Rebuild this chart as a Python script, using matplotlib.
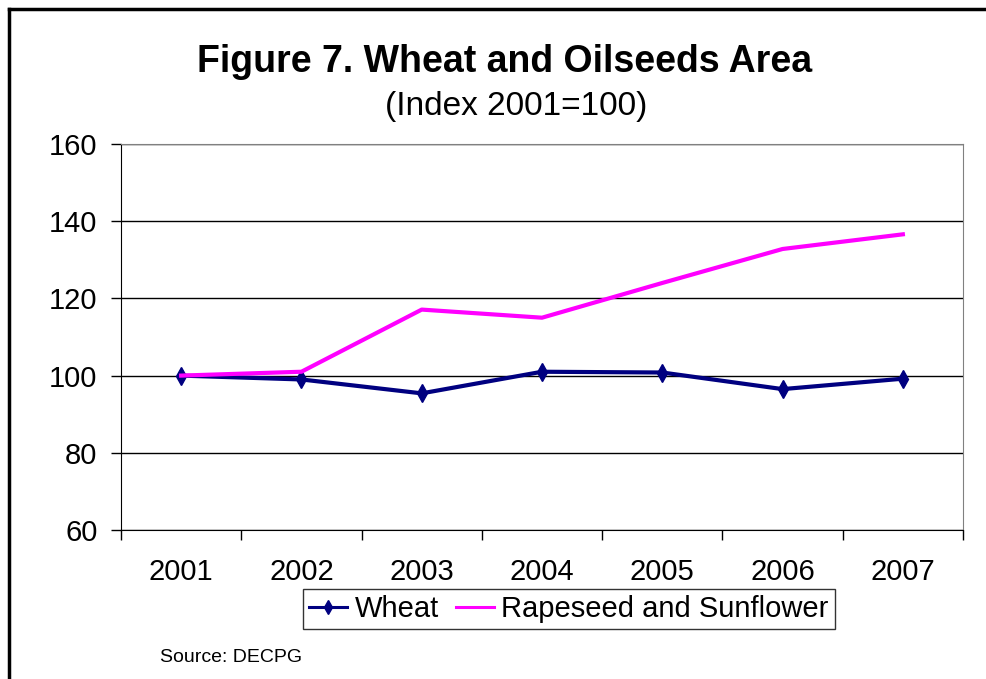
import matplotlib.pyplot as plt
from matplotlib.lines import Line2D

# Daten (Index 2001=100)
years = ["2001", "2002", "2003", "2004", "2005", "2006", "2007"]
wheat = [100.0, 99.0, 95.4, 101.0, 100.8, 96.5, 99.2]
rapeseed = [100.0, 101.0, 117.1, 115.0, 124.0, 132.8, 136.6]
y_ticks = [60, 80, 100, 120, 140, 160]

plt.rcParams["font.family"] = ["Liberation Sans", "DejaVu Sans"]

fig = plt.figure(figsize=(9.86, 6.79), dpi=100)
ax = fig.add_axes([121/986, 1-530/679, (963-121)/986, (530-144)/679])

x = list(range(len(years)))
ax.plot(x, wheat, "-", color="#000080", linewidth=3.0, marker="d",
        markersize=9, label="Wheat", zorder=3)
ax.plot(x, rapeseed, "-", color="#FF00FF", linewidth=3.0,
        label="Rapeseed and Sunflower", zorder=3)

ax.set_ylim(60, 160)
ax.set_yticks(y_ticks)
ax.set_xlim(-0.5, len(years) - 0.5)
# Ticks an den Kategoriegrenzen, Labels in der Mitte
ax.set_xticks([i - 0.5 for i in range(len(years) + 1)])
ax.set_xticklabels([])
ax.set_xticks(x, minor=True)
ax.set_xticklabels(years, minor=True)
ax.tick_params(axis="x", which="major", direction="out", length=7, width=1, color="black")
ax.tick_params(axis="x", which="minor", length=0, pad=20, labelsize=21)
ax.tick_params(axis="y", direction="out", length=7, width=1, pad=10, labelsize=21)

ax.yaxis.grid(True, color="black", linewidth=1)
ax.set_axisbelow(True)
ax.spines["left"].set_color("black")
ax.spines["bottom"].set_color("black")
ax.spines["top"].set_color("#808080")
ax.spines["right"].set_color("#808080")

fig.text(0.512, 1-62/679, "Figure 7. Wheat and Oilseeds Area", ha="center",
         va="center", fontsize=27, fontweight="bold")
fig.text(0.524, 1-106/679, "(Index 2001=100)", ha="center", va="center", fontsize=24)

leg = fig.legend(loc="center", bbox_to_anchor=(569/986, 1-609/679), ncol=2,
                 fontsize=21, frameon=True, fancybox=False, edgecolor="black",
                 handlelength=1.3, handletextpad=0.25, columnspacing=0.6,
                 borderpad=0.2, borderaxespad=0)
leg.get_frame().set_linewidth(1)
for h in leg.get_lines():
    h.set_linewidth(2.2)
    h.set_markersize(7)

fig.text(160/986, 1-657/679, "Source: DECPG", ha="left", va="center", fontsize=14)

# Rahmen oben und links
fig.add_artist(Line2D([9/986, 1], [1-9/679, 1-9/679], color="black", linewidth=2.5,
                      transform=fig.transFigure))
fig.add_artist(Line2D([9/986, 9/986], [0, 1-9/679], color="black", linewidth=2.5,
                      transform=fig.transFigure))

plt.savefig("out.png", dpi=100, facecolor="white")
